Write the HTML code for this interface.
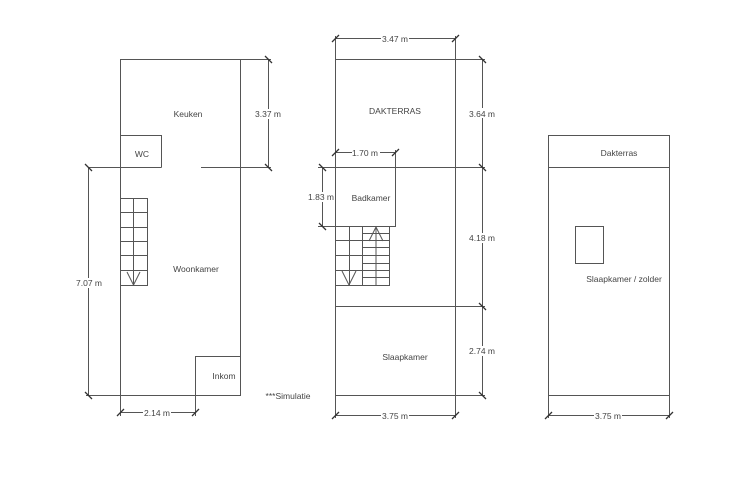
<!DOCTYPE html>
<html><head><meta charset="utf-8"><style>
html,body{margin:0;padding:0;background:#fff;}
svg{display:block;}
text{font-family:"Liberation Sans",sans-serif;font-size:8.5px;fill:#444;}
</style></head><body>
<svg width="736" height="489" viewBox="0 0 736 489" xmlns="http://www.w3.org/2000/svg">
<g stroke="#555" stroke-width="1" fill="none">
<!-- Plan 1 -->
<rect x="120.5" y="59.5" width="120" height="336"/>
<path d="M120.5 135.5H161.5V167.5"/>
<path d="M88 167.5H161.5M201 167.5H271"/>
<path d="M240 59.5H271"/>
<path d="M268.5 59.5V167.5"/>
<path d="M88.5 167.5V395.5M86 395.5H120"/>
<rect x="195.5" y="356.5" width="45" height="39"/>
<path d="M120.5 395V416M195.5 395V416M120.5 412.5H195.5"/>
<!-- stairs 1 -->
<rect x="120.5" y="198.5" width="27" height="87"/>
<path d="M133.5 198.5V285.5M120.5 212.5H147.5M120.5 227.5H147.5M120.5 241.5H147.5M120.5 255.5H147.5M120.5 270.5H147.5"/>
<path d="M127 272L133.5 285L140 272"/>
<!-- Plan 2 -->
<rect x="335.5" y="59.5" width="120" height="336"/>
<path d="M335.5 36V59M455.5 36V59M335.5 38.5H455.5"/>
<path d="M318 167.5H485M335.5 306.5H485M455 59.5H485M455 395.5H485"/>
<path d="M482.5 59.5V395.5"/>
<path d="M395.5 150V226.5H335.5M335.5 152.5H395.5"/>
<path d="M322.5 167.5V226.5M318 226.5H335"/>
<rect x="335.5" y="226.5" width="27" height="59"/>
<path d="M349.5 226.5V285.5M335.5 240.5H362.5M335.5 255.5H362.5M335.5 270.5H362.5"/>
<path d="M342 271L349 285L356 271"/>
<rect x="362.5" y="226.5" width="27" height="59"/>
<path d="M376 226.5V285.5M362.5 233.5H389.5M362.5 240.5H389.5M362.5 247.5H389.5M362.5 255.5H389.5M362.5 263.5H389.5M362.5 270.5H389.5M362.5 277.5H389.5"/>
<path d="M369 241L376 227L383 241"/>
<path d="M335.5 395V418M455.5 395V418M335.5 415.5H455.5"/>
<!-- Plan 3 -->
<rect x="548.5" y="135.5" width="121" height="260"/>
<path d="M548.5 167.5H669.5"/>
<rect x="575.5" y="226.5" width="28" height="37"/>
<path d="M548.5 395V418M669.5 395V418M548.5 415.5H669.5"/>
</g>
<!-- ticks -->
<g stroke="#333" stroke-width="1.3">
<path d="M265 56l7 7M265 164l7 7"/>
<path d="M85 164l7 7M85 392l7 7"/>
<path d="M117 416l7-7M192 416l7-7"/>
<path d="M332 42l7-7M452 42l7-7"/>
<path d="M479 56l7 7M479 164l7 7M479 303l7 7M479 392l7 7"/>
<path d="M332 156l7-7M392 156l7-7"/>
<path d="M319 164l7 7M319 223l7 7"/>
<path d="M332 419l7-7M452 419l7-7"/>
<path d="M545 419l7-7M666 419l7-7"/>
</g>
<g fill="#fff" stroke="none">
<rect x="143" y="408" width="28" height="9"/>
<rect x="381" y="34" width="28" height="9"/>
<rect x="381" y="411" width="28" height="9"/>
<rect x="594" y="411" width="28" height="9"/>
<rect x="352" y="148" width="28" height="9"/>
<rect x="256" y="109" width="28" height="10"/>
<rect x="75" y="278" width="28" height="10"/>
<rect x="468" y="108" width="28" height="10"/>
<rect x="468" y="233" width="28" height="10"/>
<rect x="468" y="346" width="28" height="10"/>
<rect x="308" y="192" width="27" height="10"/>
</g>
<text x="188" y="117" text-anchor="middle">Keuken</text>
<text x="142" y="157" text-anchor="middle">WC</text>
<text x="196" y="272" text-anchor="middle">Woonkamer</text>
<text x="224" y="379" text-anchor="middle">Inkom</text>
<text x="268" y="117" text-anchor="middle">3.37 m</text>
<text x="89" y="286" text-anchor="middle">7.07 m</text>
<text x="157" y="416" text-anchor="middle">2.14 m</text>
<text x="288" y="399" text-anchor="middle">***Simulatie</text>
<text x="395" y="42" text-anchor="middle">3.47 m</text>
<text x="395" y="114" text-anchor="middle">DAKTERRAS</text>
<text x="482" y="117" text-anchor="middle">3.64 m</text>
<text x="365" y="156" text-anchor="middle">1.70 m</text>
<text x="321" y="200" text-anchor="middle">1.83 m</text>
<text x="371" y="201" text-anchor="middle">Badkamer</text>
<text x="482" y="241" text-anchor="middle">4.18 m</text>
<text x="482" y="354" text-anchor="middle">2.74 m</text>
<text x="405" y="360" text-anchor="middle">Slaapkamer</text>
<text x="395" y="419" text-anchor="middle">3.75 m</text>
<text x="619" y="156" text-anchor="middle">Dakterras</text>
<text x="624" y="282" text-anchor="middle">Slaapkamer / zolder</text>
<text x="608" y="419" text-anchor="middle">3.75 m</text>
</svg>
</body></html>
